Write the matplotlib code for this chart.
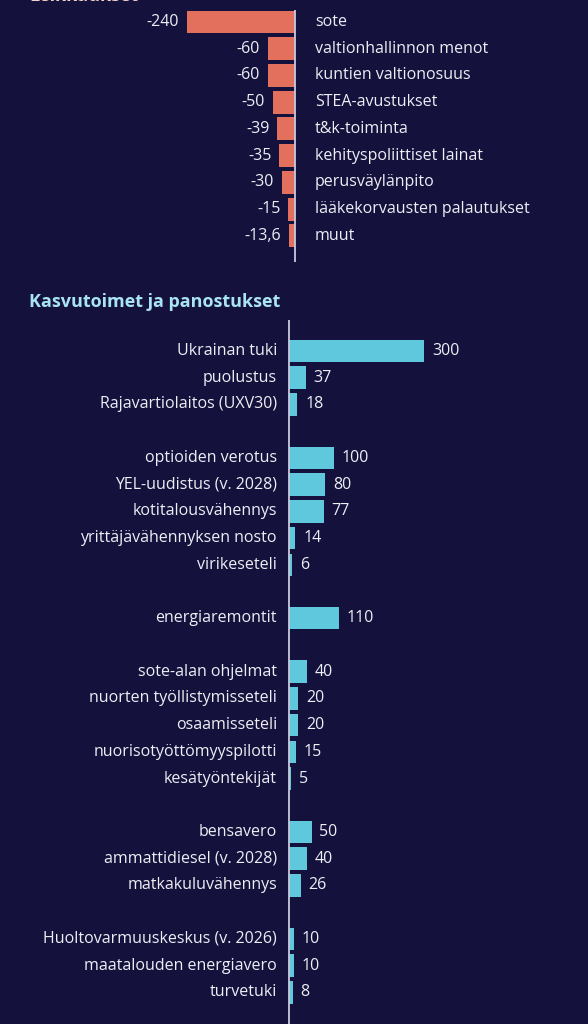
import matplotlib
matplotlib.use("Agg")
import matplotlib.pyplot as plt
from matplotlib.transforms import offset_copy

# ---- data ----
cut_labels = ["sote", "valtionhallinnon menot", "kuntien valtionosuus", "STEA-avustukset",
              "t&k-toiminta", "kehityspoliittiset lainat", "perusväylänpito",
              "lääkekorvausten palautukset", "muut"]
cut_values = [-240, -60, -60, -50, -39, -35, -30, -15, -13.6]
cut_texts = ["-240", "-60", "-60", "-50", "-39", "-35", "-30", "-15", "-13,6"]

grow_groups = [
    (["Ukrainan tuki", "puolustus", "Rajavartiolaitos (UXV30)"], [300, 37, 18]),
    (["optioiden verotus", "YEL-uudistus (v. 2028)", "kotitalousvähennys",
      "yrittäjävähennyksen nosto", "virikeseteli"], [100, 80, 77, 14, 6]),
    (["energiaremontit"], [110]),
    (["sote-alan ohjelmat", "nuorten työllistymisseteli", "osaamisseteli",
      "nuorisotyöttömyyspilotti", "kesätyöntekijät"], [40, 20, 20, 15, 5]),
    (["bensavero", "ammattidiesel (v. 2028)", "matkakuluvähennys"], [50, 40, 26]),
    (["Huoltovarmuuskeskus (v. 2026)", "maatalouden energiavero", "turvetuki"], [10, 10, 8]),
]

title_cut = "Leikkaukset"
title_grow = "Kasvutoimet ja panostukset"

# ---- style ----
BG = "#14113d"
SALMON = "#e36f5d"
CYAN = "#5fc8dd"
TXT = "#eeeef4"
AXC = "#c9c9dd"
FONT = ["Open Sans", "DejaVu Sans"]
FS = 11.5

W, H = 588, 1024
fig = plt.figure(figsize=(W / 100, H / 100), dpi=100, facecolor=BG)

PXU = 0.45  # pixels per unit
ROW = 26.72


def make_axes(top_px, bot_px, x0_px, row0_px):
    ax = fig.add_axes([0, 1 - bot_px / H, 1, (bot_px - top_px) / H])
    ax.set_facecolor("none")
    ax.set_xlim(-x0_px / PXU, (W - x0_px) / PXU)
    ax.set_ylim((bot_px - row0_px) / ROW, (top_px - row0_px) / ROW)
    ax.axis("off")
    return ax

# ---- top chart ----
ax1 = make_axes(0, 275, 295, 22)
ypos = list(range(len(cut_values)))
ax1.barh(ypos, cut_values, height=0.86, color=SALMON)
ax1.vlines(0, (10 - 22) / ROW, (262 - 22) / ROW, color=AXC, lw=1.3)
for y, v, t, lab in zip(ypos, cut_values, cut_texts, cut_labels):
    tr = offset_copy(ax1.transData, fig=fig, x=-8, y=0, units="dots")
    ax1.text(v, y, t, transform=tr, ha="right", va="center", color=TXT,
             fontsize=FS, family=FONT)
    tr2 = offset_copy(ax1.transData, fig=fig, x=20, y=0, units="dots")
    ax1.text(0, y, lab, transform=tr2, ha="left", va="center", color=TXT,
             fontsize=FS, family=FONT)

fig.text(29 / W, 1 - (-4) / H, title_cut, ha="left", va="center", color="#f3d2cb",
         fontsize=13, fontweight="bold", family=FONT)

# ---- bottom chart ----
ax2 = make_axes(280, 1024, 289, 351)
labels, values, rows = [], [], []
r = 0
for names, vals in grow_groups:
    for n, v in zip(names, vals):
        labels.append(n)
        values.append(v)
        rows.append(r)
        r += 1
    r += 1
ax2.barh(rows, values, height=0.84, color=CYAN)
ax2.vlines(0, (320 - 351) / ROW, (1024 - 351) / ROW, color=AXC, lw=1.3)
for y, v, lab in zip(rows, values, labels):
    tr = offset_copy(ax2.transData, fig=fig, x=8, y=0, units="dots")
    ax2.text(v, y, f"{v}", transform=tr, ha="left", va="center", color=TXT,
             fontsize=FS, family=FONT)
    tr2 = offset_copy(ax2.transData, fig=fig, x=-12, y=0, units="dots")
    ax2.text(0, y, lab, transform=tr2, ha="right", va="center", color=TXT,
             fontsize=FS, family=FONT)

fig.text(29 / W, 1 - 302 / H, title_grow, ha="left", va="center", color="#a9e4f3",
         fontsize=13, fontweight="bold", family=FONT)

fig.savefig("out.png", dpi=100, facecolor=BG)
